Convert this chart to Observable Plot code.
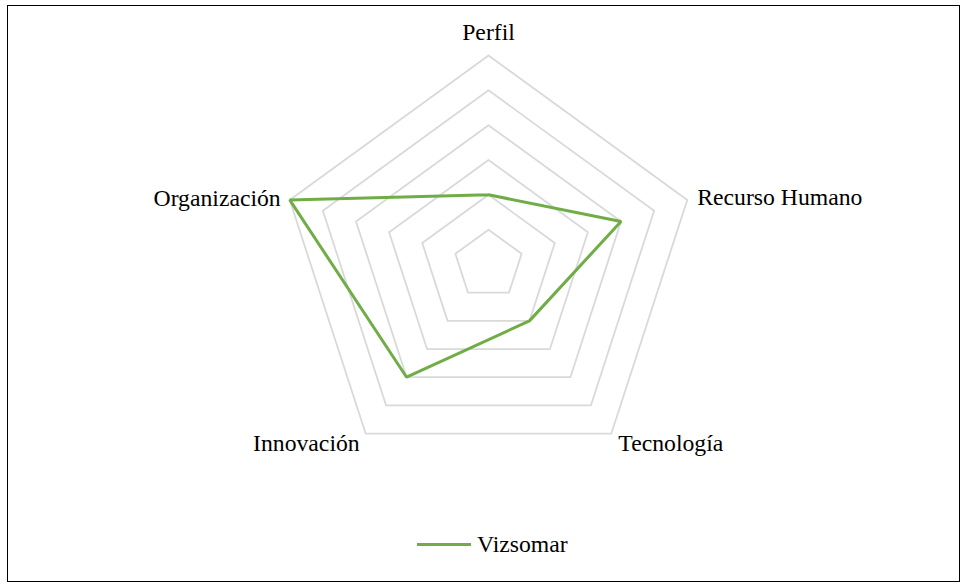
<!DOCTYPE html>
<html>
<head>
<meta charset="utf-8">
<script src="https://cdn.jsdelivr.net/npm/d3@7"></script>
<script src="https://cdn.jsdelivr.net/npm/@observablehq/plot@0.6"></script>
<style>
  html, body { margin: 0; padding: 0; background: #fff; overflow: hidden; }
  #wrap { position: relative; width: 961px; height: 583px; font-family: "Liberation Serif", "Times New Roman", serif; }
  #frame { position: absolute; left: 7px; top: 5px; width: 953px; height: 577px; border: 1px solid #000; box-sizing: border-box; pointer-events: none; }
  #chart { position: absolute; left: 0; top: 0; }
  #legend { position: absolute; left: 417px; top: 531px; display: flex; align-items: center; font-size: 23.7px; color: #000; }
  #legend .sw { width: 54px; height: 3px; background: #70ad47; margin-right: 6px; }
</style>
</head>
<body>
<div id="wrap">
  <div id="chart"></div>
  <div id="frame"></div>
  <div id="legend"><span class="sw"></span><span id="legtext"></span></div>
</div>
<script>
// ---- data ----
const axes = ["Perfil", "Recurso Humano", "Tecnología", "Innovación", "Organización"];
const vizsomar = [2, 4, 2, 4, 6];
const levels = [1, 2, 3, 4, 5, 6];
const seriesName = "Vizsomar";

// ---- layout (styles / label offsets) ----
const labelLayout = [
  {anchor: "middle", dx: 0, dy: -23},
  {anchor: "start", dx: 10, dy: -3},
  {anchor: "start", dx: 7, dy: 10},
  {anchor: "end", dx: -6, dy: 10},
  {anchor: "end", dx: -9, dy: -2}
];

const n = axes.length;
const ang = i => (i % n) * 2 * Math.PI / n;
const px = (r, i) => r * Math.sin(ang(i));
const py = (r, i) => r * Math.cos(ang(i));

const ringData = levels.flatMap(l => d3.range(n + 1).map(i => ({level: l, i, r: l})));
const seriesData = d3.range(n + 1).map(i => ({i, r: vizsomar[i % n], name: seriesName}));
const labelData = axes.map((a, i) => ({axis: a, i, r: d3.max(levels)}));

const R = 209, cx = 488, cy = 264, maxV = d3.max(levels);

const chart = Plot.plot({
  width: 961,
  height: 583,
  margin: 0,
  x: {type: "linear", domain: [-maxV, maxV], range: [cx - R, cx + R], axis: null},
  y: {type: "linear", domain: [-maxV, maxV], range: [cy + R, cy - R], axis: null},
  style: {fontFamily: '"Liberation Serif", "Times New Roman", serif', background: "transparent"},
  marks: [
    Plot.line(ringData, {x: d => px(d.r, d.i), y: d => py(d.r, d.i), z: "level", stroke: "#d9d9d9", strokeWidth: 1.8, curve: "linear"}),
    Plot.line(seriesData, {x: d => px(d.r, d.i), y: d => py(d.r, d.i), stroke: "#70ad47", strokeWidth: 3, strokeLinejoin: "miter"}),
    ...labelData.map((d, k) => Plot.text([d], {
      x: d => px(d.r, d.i), y: d => py(d.r, d.i), text: "axis",
      textAnchor: labelLayout[k].anchor, dx: labelLayout[k].dx, dy: labelLayout[k].dy,
      fontSize: 23.7, fill: "#000", lineAnchor: "middle",
      fontFamily: '"Liberation Serif", "Times New Roman", serif'
    }))
  ]
});
document.getElementById("chart").appendChild(chart);
document.getElementById("legtext").textContent = seriesName;
</script>
</body>
</html>
